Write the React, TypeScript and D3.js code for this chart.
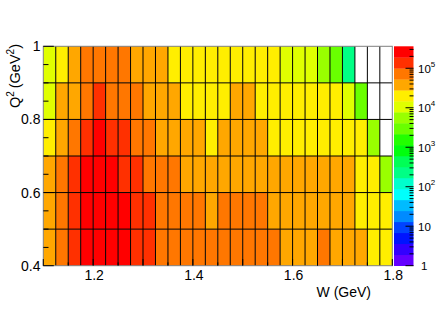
import React, { useEffect, useRef } from 'react';
import * as d3 from 'd3';

// W bin edges (GeV), 28 bins of 0.025
const wEdges = [1.1, 1.125, 1.15, 1.175, 1.2, 1.225, 1.25, 1.275, 1.3, 1.325, 1.35, 1.375, 1.4, 1.425,
  1.45, 1.475, 1.5, 1.525, 1.55, 1.575, 1.6, 1.625, 1.65, 1.675, 1.7, 1.725, 1.75, 1.775, 1.8];

// Q2 bin edges (GeV^2)
const q2Edges = [0.4, 0.5, 0.6, 0.7, 0.8, 0.9, 1.0];

// counts per W bin, one list per Q2 bin (null = empty bin)
const q2Bin045 = [44000, 92000, 180000, 330000, 350000, 320000, 260000, 170000, 140000, 90000, 80000, 74000, 70000, 68000,
  66000, 64000, 62000, 60000, 57000, 50000, 48000, 47000, 60000, 45000, 43000, 38000, 26000, 22000];
const q2Bin055 = [42000, 95000, 185000, 320000, 340000, 310000, 250000, 175000, 125000, 85000, 72000, 65000, 60000, 50000,
  64000, 62000, 58000, 56000, 51000, 49000, 47000, 46000, 44000, 42000, 37000, 27000, 24000, 21000];
const q2Bin065 = [40000, 90000, 170000, 270000, 300000, 240000, 180000, 115000, 80000, 62000, 62000, 50000, 47000, 44000,
  46000, 45000, 43000, 41000, 40000, 42000, 41000, 39000, 38000, 36000, 33000, 24000, 19000, 6500];
const q2Bin075 = [22000, 45000, 85000, 150000, 210000, 160000, 130000, 90000, 70000, 48000, 42000, 38000, 33000, 26000,
  36000, 38000, 35000, 31000, 26000, 25000, 24000, 23000, 22000, 21000, 19000, 17000, 6000, null];
const q2Bin085 = [12000, 37000, 45000, 82000, 120000, 88000, 80000, 62000, 43000, 40000, 33000, 25000, 23000, 22000,
  24000, 31000, 32000, 24000, 22000, 21000, 20000, 19000, 18000, 17000, 10500, 3200, null, null];
const q2Bin095 = [11500, 21000, 41000, 70000, 76000, 79000, 72000, 44000, 40000, 38000, 24000, 22000, 21000, 20000,
  19500, 20500, 19000, 18500, 17500, 12500, 11000, 10000, 5800, 3100, 230, null, null, null];

const rows = [q2Bin045, q2Bin055, q2Bin065, q2Bin075, q2Bin085, q2Bin095];

// axis labels
const xTickLabels = [1.2, 1.4, 1.6, 1.8];
const yTickLabels = [0.4, 0.6, 0.8, 1];
const zDecades = [1, 10, 100, 1000, 10000, 100000];
const zMax = 3.6e5;
const nContours = 20;

const App = () => {
  const ref = useRef<SVGSVGElement>(null);

  useEffect(() => {
    drawChart();
    return () => {
      d3.select(ref.current).selectAll('*').remove();
    };
  }, []);

  const drawChart = () => {
    const width = 436;
    const height = 313;
    const frame = { left: 43.3, right: 392.3, top: 46.3, bottom: 265.7 };
    const pal = { left: 394, right: 413.5 };
    const font = "'Liberation Sans', Arial, Helvetica, sans-serif";

    const svg = d3.select(ref.current)
      .attr('width', width)
      .attr('height', height);

    svg.append('rect').attr('width', width).attr('height', height).attr('fill', 'white');

    const x = d3.scaleLinear().domain([1.1, 1.8]).range([frame.left, frame.right]);
    const y = d3.scaleLinear().domain([0.4, 1.0]).range([frame.bottom, frame.top]);

    // ROOT "pretty palette" violet -> red, 50 colours, mapped on 20 contours
    const paletteColor = (k: number) => {
      const idx = Math.floor((k + 0.99) * 50 / nContours);
      const hue = 280 - (idx + 1) * (280 / 50);
      return d3.hsl(hue, 1, 0.5).formatHex();
    };
    const zBand = d3.scaleLog().domain([1, zMax]).range([0, nContours]);
    const bandOf = (v: number) => Math.max(0, Math.min(nContours - 1, Math.floor(zBand(v))));

    // cells
    const g = svg.append('g');
    rows.forEach((row, j) => {
      row.forEach((v, i) => {
        if (v == null) return;
        g.append('rect')
          .attr('x', x(wEdges[i]))
          .attr('y', y(q2Edges[j + 1]))
          .attr('width', x(wEdges[i + 1]) - x(wEdges[i]))
          .attr('height', y(q2Edges[j]) - y(q2Edges[j + 1]))
          .attr('fill', paletteColor(bandOf(v)));
      });
    });

    // bin grid lines
    g.selectAll('.vline')
      .data(wEdges.slice(1, -1))
      .enter().append('line')
      .attr('x1', d => x(d)).attr('x2', d => x(d))
      .attr('y1', frame.top).attr('y2', frame.bottom)
      .attr('stroke', 'black').attr('stroke-width', 1);
    g.selectAll('.hline')
      .data(q2Edges.slice(1, -1))
      .enter().append('line')
      .attr('x1', frame.left).attr('x2', frame.right)
      .attr('y1', d => y(d)).attr('y2', d => y(d))
      .attr('stroke', 'black').attr('stroke-width', 1);

    // frame
    svg.append('rect')
      .attr('x', frame.left).attr('y', frame.top)
      .attr('width', frame.right - frame.left).attr('height', frame.bottom - frame.top)
      .attr('fill', 'none').attr('stroke', '#808080').attr('stroke-width', 1);

    // y ticks (inside frame)
    const yTicks = d3.range(0, 13).map(k => 0.4 + k * 0.05);
    svg.selectAll('.ytick')
      .data(yTicks)
      .enter().append('line')
      .attr('x1', frame.left)
      .attr('x2', (d, k) => frame.left + (k % 4 === 0 ? 10.5 : 5.2))
      .attr('y1', d => y(d)).attr('y2', d => y(d))
      .attr('stroke', 'black').attr('stroke-width', 1);

    // x ticks
    const xTicks = d3.range(0, 15).map(k => 1.1 + k * 0.05);
    svg.selectAll('.xtick')
      .data(xTicks)
      .enter().append('line')
      .attr('x1', d => x(d)).attr('x2', d => x(d))
      .attr('y1', frame.bottom)
      .attr('y2', (d, k) => frame.bottom - (k % 2 === 0 ? 6.6 : 3.3))
      .attr('stroke', 'black').attr('stroke-width', 1);

    // tick labels
    svg.selectAll('.xlab')
      .data(xTickLabels)
      .enter().append('text')
      .attr('x', d => x(d) + 1)
      .attr('y', 280)
      .attr('text-anchor', 'middle')
      .attr('font-family', font).attr('font-size', 14)
      .text(d => d.toFixed(1));

    svg.selectAll('.ylab')
      .data(yTickLabels)
      .enter().append('text')
      .attr('x', 40.5)
      .attr('y', d => y(d) + 5)
      .attr('text-anchor', 'end')
      .attr('font-family', font).attr('font-size', 14)
      .text(d => (d === 1 ? '1' : d.toFixed(1)));

    // axis titles
    svg.append('text')
      .attr('x', 371).attr('y', 297)
      .attr('text-anchor', 'end')
      .attr('font-family', font).attr('font-size', 14)
      .text('W (GeV)');

    const yt = svg.append('text')
      .attr('transform', 'translate(20,44) rotate(-90)')
      .attr('text-anchor', 'end')
      .attr('font-family', font).attr('font-size', 14.5);
    yt.append('tspan').text('Q');
    yt.append('tspan').attr('dy', -6).attr('font-size', 10).text('2');
    yt.append('tspan').attr('dy', 6).text('\u2009(GeV');
    yt.append('tspan').attr('dy', -6).attr('font-size', 10).text('2');
    yt.append('tspan').attr('dy', 6).text(')');

    // palette
    const pBand = d3.scaleLinear().domain([0, nContours]).range([frame.bottom, frame.top]);
    svg.selectAll('.pal')
      .data(d3.range(nContours))
      .enter().append('rect')
      .attr('x', pal.left)
      .attr('y', d => pBand(d + 1))
      .attr('width', pal.right - pal.left)
      .attr('height', d => pBand(d) - pBand(d + 1) + 0.3)
      .attr('fill', d => paletteColor(d));

    const z = d3.scaleLog().domain([1, zMax]).range([frame.bottom, frame.top]);
    const zMinor: number[] = [];
    zDecades.forEach(dec => {
      for (let m = 2; m <= 9; m++) if (dec * m <= zMax) zMinor.push(dec * m);
    });
    svg.selectAll('.zminor')
      .data(zMinor)
      .enter().append('line')
      .attr('x1', pal.right).attr('x2', pal.right - 4)
      .attr('y1', d => z(d)).attr('y2', d => z(d))
      .attr('stroke', 'black').attr('stroke-width', 1);
    svg.selectAll('.zmajor')
      .data(zDecades)
      .enter().append('line')
      .attr('x1', pal.right).attr('x2', pal.right - 8)
      .attr('y1', d => z(d)).attr('y2', d => z(d))
      .attr('stroke', 'black').attr('stroke-width', 1);

    zDecades.forEach(dec => {
      const p = Math.round(Math.log10(dec));
      const t = svg.append('text')
        .attr('x', p === 0 ? 421 : 418)
        .attr('y', z(dec) + 4.5)
        .attr('font-family', font).attr('font-size', 11.5);
      if (p <= 1) {
        t.text(String(dec));
      } else {
        t.append('tspan').text('10');
        t.append('tspan').attr('dy', -6).attr('font-size', 8).text(String(p));
      }
    });
  };

  return (
    <div>
      <svg ref={ref} style={{ position: 'absolute', left: 0, top: 0 }}></svg>
    </div>
  );
};

export default App;
